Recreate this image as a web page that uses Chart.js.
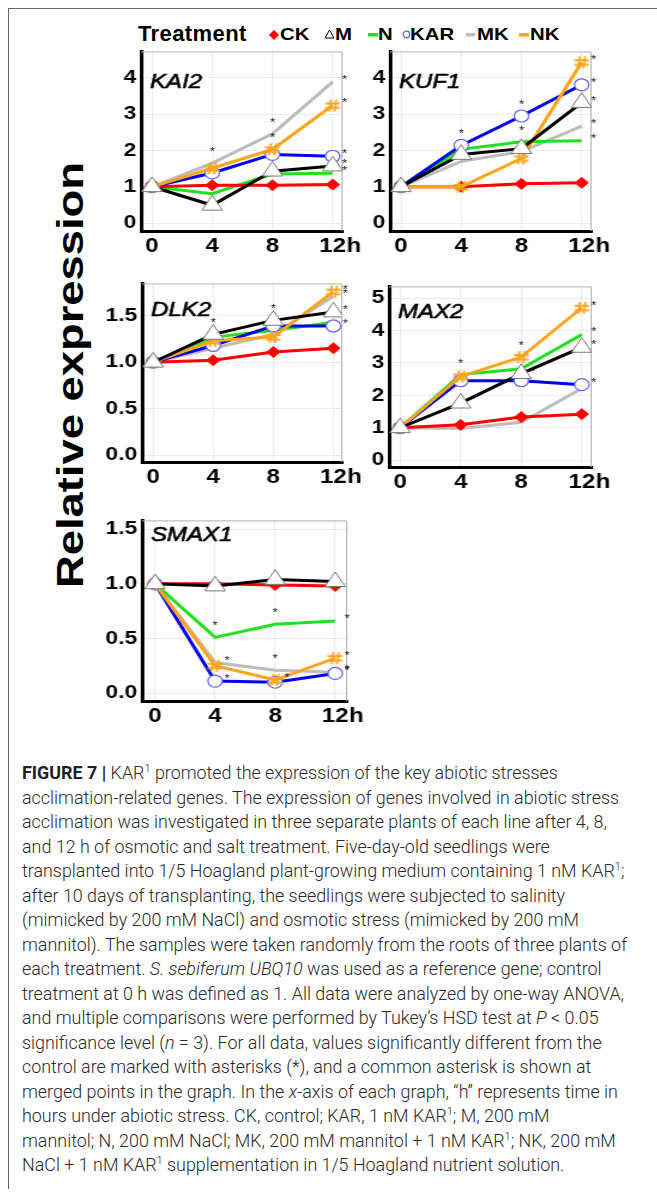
<!DOCTYPE html>
<html>
<head>
<meta charset="utf-8">
<script src="https://cdn.jsdelivr.net/npm/chart.js@4.4.0/dist/chart.umd.min.js"></script>
<style>
  body { margin: 0; background: #fff; width: 657px; height: 1194px; overflow: hidden; position: relative; font-family: "Liberation Sans", Arial, sans-serif; }
  #frame { position: absolute; left: 8px; top: 8px; width: 700px; height: 1180px; border-left: 1px solid #666; border-top: 1px solid #666; }
  .lg { position: absolute; top: 26px; font: bold 17px "Liberation Sans", Arial, sans-serif; line-height: 17px; transform: scaleX(1.2); transform-origin: 0 0; color: #000; }
  #treat { position: absolute; left: 138px; top: 23px; font: bold 22px "Liberation Sans", Arial, sans-serif; line-height: 22px; letter-spacing: 0.4px; }
  .sym { position: absolute; }
  #ytitle { position: absolute; left: -230px; top: 355px; width: 600px; height: 40px; line-height: 40px; text-align: center;
            font: bold 36px "Liberation Sans", Arial, sans-serif; transform: rotate(-90deg) scaleX(1.26); color: #000; }
  #caption { position: absolute; left: 22px; top: 761px; font: 300 17.9px Roboto, sans-serif; line-height: 24.5px; color: #2a2a2a; white-space: nowrap; }
  #caption b { font-weight: 700; color: #222; }
  #caption sup { font-size: 11px; line-height: 0; }
</style>
</head>
<body>
<div id="frame"></div>

<div id="treat">Treatment</div>
<svg class="sym" style="left:269px;top:30px" width="10" height="10"><path d="M5 0 L10 5 L5 10 L0 5 Z" fill="#ff0000"/><path d="M5 1 V9 M1 5 H9" stroke="#ff0000" stroke-width="1.5"/></svg>
<div class="lg" style="left:280px">CK</div>
<svg class="sym" style="left:324px;top:29px" width="11" height="10"><path d="M5.5 1 L10 9 L1 9 Z" fill="#fff" stroke="#000" stroke-width="1"/></svg>
<div class="lg" style="left:335px">M</div>
<svg class="sym" style="left:368px;top:33px" width="10" height="4"><rect x="0" y="0" width="10" height="3.5" fill="#21e021"/></svg>
<div class="lg" style="left:378px">N</div>
<svg class="sym" style="left:402px;top:30px" width="9" height="9"><circle cx="4.5" cy="4.5" r="3.3" fill="#fff" stroke="#5a5aff" stroke-width="1.2"/></svg>
<div class="lg" style="left:410px">KAR</div>
<svg class="sym" style="left:466px;top:33px" width="10" height="4"><rect x="0" y="0" width="9" height="3.5" fill="#bdbdbd"/></svg>
<div class="lg" style="left:477px">MK</div>
<svg class="sym" style="left:519px;top:33px" width="10" height="4"><rect x="0" y="0" width="10" height="3.5" fill="#ffa41b"/></svg>
<div class="lg" style="left:530px">NK</div>

<div id="ytitle">Relative expression</div>

<div id="caption">
<div><b>FIGURE 7 |</b> KAR<sup>1</sup> promoted the expression of the key abiotic stresses</div>
<div>acclimation-related genes. The expression of genes involved in abiotic stress</div>
<div>acclimation was investigated in three separate plants of each line after 4, 8,</div>
<div>and 12 h of osmotic and salt treatment. Five-day-old seedlings were</div>
<div>transplanted into 1/5 Hoagland plant-growing medium containing 1 nM KAR<sup>1</sup>;</div>
<div>after 10 days of transplanting, the seedlings were subjected to salinity</div>
<div>(mimicked by 200 mM NaCl) and osmotic stress (mimicked by 200 mM</div>
<div>mannitol). The samples were taken randomly from the roots of three plants of</div>
<div>each treatment. <i>S. sebiferum UBQ10</i> was used as a reference gene; control</div>
<div>treatment at 0 h was defined as 1. All data were analyzed by one-way ANOVA,</div>
<div>and multiple comparisons were performed by Tukey’s HSD test at <i>P</i> &lt; 0.05</div>
<div>significance level (<i>n</i> = 3). For all data, values significantly different from the</div>
<div>control are marked with asterisks (*), and a common asterisk is shown at</div>
<div>merged points in the graph. In the <i>x</i>-axis of each graph, “h” represents time in</div>
<div>hours under abiotic stress. CK, control; KAR, 1 nM KAR<sup>1</sup>; M, 200 mM</div>
<div>mannitol; N, 200 mM NaCl; MK, 200 mM mannitol + 1 nM KAR<sup>1</sup>; NK, 200 mM</div>
<div>NaCl + 1 nM KAR<sup>1</sup> supplementation in 1/5 Hoagland nutrient solution.</div>
</div>

<script>
// time points (h) and axis labels
const hours = [0, 4, 8, 12];
const hourLabels = ['0', '4', '8', '12'];

const ticksInt4 = [0, 1, 2, 3, 4];
const labelsInt4 = ['0', '1', '2', '3', '4'];
const ticksInt5 = [0, 1, 2, 3, 4, 5];
const labelsInt5 = ['0', '1', '2', '3', '4', '5'];
const ticksHalf = [0, 0.5, 1, 1.5];
const labelsHalf = ['0.0', '0.5', '1.0', '1.5'];

// KAI2
const kai2CK  = [1.00, 1.04, 1.04, 1.06];
const kai2M   = [1.00, 0.49, 1.43, 1.57];
const kai2N   = [1.00, 0.81, 1.35, 1.37];
const kai2KAR = [1.00, 1.38, 1.89, 1.84];
const kai2MK  = [1.00, 1.65, 2.46, 3.89];
const kai2NK  = [1.00, 1.51, 2.03, 3.24];

// KUF1
const kuf1CK  = [1.00, 1.00, 1.08, 1.11];
const kuf1M   = [1.00, 1.89, 2.05, 3.32];
const kuf1N   = [1.00, 2.03, 2.24, 2.27];
const kuf1KAR = [1.00, 2.14, 2.95, 3.81];
const kuf1MK  = [1.00, 1.70, 1.97, 2.67];
const kuf1NK  = [1.00, 1.00, 1.78, 4.43];

// DLK2
const dlk2CK  = [1.00, 1.02, 1.11, 1.15];
const dlk2M   = [1.00, 1.30, 1.45, 1.54];
const dlk2N   = [1.00, 1.27, 1.34, 1.43];
const dlk2KAR = [1.00, 1.18, 1.39, 1.39];
const dlk2MK  = [1.00, 1.15, 1.30, 1.71];
const dlk2NK  = [1.00, 1.23, 1.27, 1.76];

// MAX2
const max2CK  = [1.00, 1.09, 1.33, 1.42];
const max2M   = [1.00, 1.76, 2.67, 3.48];
const max2N   = [1.00, 2.64, 2.82, 3.88];
const max2KAR = [1.00, 2.45, 2.45, 2.33];
const max2MK  = [1.00, 0.98, 1.17, 2.21];
const max2NK  = [1.00, 2.58, 3.18, 4.70];

// SMAX1
const smax1CK  = [1.00, 1.00, 0.99, 0.98];
const smax1M   = [1.00, 0.98, 1.04, 1.02];
const smax1N   = [1.00, 0.51, 0.63, 0.66];
const smax1KAR = [1.00, 0.11, 0.10, 0.18];
const smax1MK  = [1.00, 0.28, 0.21, 0.19];
const smax1NK  = [1.00, 0.25, 0.12, 0.32];

// significance marks: [treatment, point index, 'r' right / 'a' above]
const kai2Stars  = [['MK',3,'r'],['NK',3,'r'],['KAR',3,'r'],['M',3,'r'],['N',3,'r'],['MK',2,'a'],['NK',2,'a'],['MK',1,'a']];
const kuf1Stars  = [['NK',3,'r'],['KAR',3,'r'],['M',3,'r'],['MK',3,'r'],['N',3,'r'],['KAR',2,'a'],['N',2,'a'],['KAR',1,'a']];
const dlk2Stars  = [['NK',3,'r'],['MK',3,'r'],['M',3,'r'],['KAR',3,'r'],['M',2,'a'],['M',1,'a']];
const max2Stars  = [['NK',3,'r'],['N',3,'r'],['M',3,'r'],['KAR',3,'r'],['NK',2,'a'],['M',2,'r'],['N',1,'a']];
const smax1Stars = [['N',3,'r'],['NK',3,'r'],['MK',3,'r'],['KAR',3,'r'],['N',2,'a'],['MK',2,'a'],['NK',2,'r'],['N',1,'a'],['MK',1,'r'],['KAR',1,'r']];

const S = 1.2; // the original figure is stretched horizontally

function hashIcon(color) {
  const c = document.createElement('canvas');
  c.width = 13; c.height = 14;
  const g = c.getContext('2d');
  g.strokeStyle = color; g.lineWidth = 1.8;
  g.beginPath();
  g.moveTo(5, 1); g.lineTo(3.5, 13);
  g.moveTo(9.5, 1); g.lineTo(8, 13);
  g.moveTo(0.5, 5); g.lineTo(12.5, 5);
  g.moveTo(0.5, 9.5); g.lineTo(12.5, 9.5);
  g.stroke();
  return c;
}
const hashOrange = hashIcon('#ffa41b');

const style = {
  M:   { borderColor: '#000000', pointStyle: 'triangle', pointRadius: 9.8, pointBackgroundColor: '#ffffff', pointBorderColor: '#7a7a7a', pointBorderWidth: 1 },
  NK:  { borderColor: '#ffa41b', pointStyle: hashOrange, pointRadius: 7 },
  KAR: { borderColor: '#0000ee', pointStyle: 'circle', pointRadius: 6, pointBackgroundColor: '#ffffff', pointBorderColor: '#6464ff', pointBorderWidth: 1.2 },
  CK:  { borderColor: '#ff0000', pointStyle: 'rectRot', pointRadius: 5.5, pointBackgroundColor: '#ff0000', pointBorderColor: '#ff0000', pointBorderWidth: 1 },
  N:   { borderColor: '#21e021', pointRadius: 0 },
  MK:  { borderColor: '#bdbdbd', pointRadius: 0 }
};
const drawOrder = ['M', 'NK', 'KAR', 'CK', 'N', 'MK']; // first is drawn on top

const panels = [
  { name: 'KAI2', box: [141, 48, 343, 231], yRange: [-0.22, 4.73], xRange: [-0.73, 12.66], yTicks: ticksInt4, yLabels: labelsInt4, nameDy: 37,
    data: { CK: kai2CK, M: kai2M, N: kai2N, KAR: kai2KAR, MK: kai2MK, NK: kai2NK }, stars: kai2Stars },
  { name: 'KUF1', box: [390, 48, 592, 231], yRange: [-0.22, 4.73], xRange: [-0.73, 12.66], yTicks: ticksInt4, yLabels: labelsInt4, nameDy: 37,
    data: { CK: kuf1CK, M: kuf1M, N: kuf1N, KAR: kuf1KAR, MK: kuf1MK, NK: kuf1NK }, stars: kuf1Stars },
  { name: 'DLK2', box: [142, 280, 342, 462], yRange: [-0.074, 1.848], xRange: [-0.74, 12.6], yTicks: ticksHalf, yLabels: labelsHalf, nameDy: 33,
    data: { CK: dlk2CK, M: dlk2M, N: dlk2N, KAR: dlk2KAR, MK: dlk2MK, NK: dlk2NK }, stars: dlk2Stars },
  { name: 'MAX2', box: [389, 283, 592, 467], yRange: [-0.21, 5.36], xRange: [-0.73, 12.66], yTicks: ticksInt5, yLabels: labelsInt5, nameDy: 32,
    data: { CK: max2CK, M: max2M, N: max2N, KAR: max2KAR, MK: max2MK, NK: max2NK }, stars: max2Stars },
  { name: 'SMAX1', box: [142, 517, 347, 701], yRange: [-0.072, 1.58], xRange: [-0.87, 12.8], yTicks: ticksHalf, yLabels: labelsHalf, nameDy: 21,
    data: { CK: smax1CK, M: smax1M, N: smax1N, KAR: smax1KAR, MK: smax1MK, NK: smax1NK }, stars: smax1Stars }
];

const decor = {
  id: 'decor',
  beforeDatasetsDraw(chart, args, o) {
    const { ctx, chartArea: a } = chart;
    ctx.save();
    ctx.strokeStyle = '#b0b0b0';
    ctx.lineWidth = 1;
    ctx.beginPath();
    ctx.moveTo(a.left, a.top + 0.5);
    ctx.lineTo(a.right - 0.5, a.top + 0.5);
    ctx.lineTo(a.right - 0.5, a.bottom);
    ctx.stroke();
    ctx.fillStyle = '#000';
    ctx.strokeStyle = '#000';
    ctx.lineWidth = 0.6;
    ctx.font = 'italic 20px "Liberation Sans", Arial, sans-serif';
    ctx.textBaseline = 'alphabetic';
    ctx.fillText(o.name, a.left + 7.5, a.top + o.nameDy);
    ctx.strokeText(o.name, a.left + 7.5, a.top + o.nameDy);
    ctx.restore();
  },
  afterDraw(chart, args, o) {
    const { ctx } = chart;
    const xs = chart.scales.x;
    ctx.save();
    ctx.fillStyle = '#000';
    ctx.font = 'bold 20px "Liberation Sans", Arial, sans-serif';
    ctx.textBaseline = 'middle';
    ctx.textAlign = 'left';
    const w = ctx.measureText('12').width;
    ctx.fillText('h', xs.getPixelForValue(12) + w / 2 + 0.5, xs.top + 3 + 12);
    ctx.font = '11px "Liberation Sans", Arial, sans-serif';
    ctx.textAlign = 'center';
    ctx.fillStyle = '#111';
    o.stars.forEach(([key, i, pos]) => {
      const ds = drawOrder.indexOf(key);
      const pt = chart.getDatasetMeta(ds).data[i];
      if (pos === 'r') ctx.fillText('*', pt.x + 10, pt.y - 2);
      else ctx.fillText('*', pt.x, pt.y - 11);
    });
    ctx.restore();
  }
};

const tickFontX = { family: '"Liberation Sans", Arial, sans-serif', size: 20, weight: 'bold' };
const tickFontY = { family: '"Liberation Sans", Arial, sans-serif', size: 19, weight: 'bold' };

panels.forEach(p => {
  const [l, t, r, b] = p.box;
  const yW = 40, padT = 12, padR = 22, xH = 32;
  const w = Math.round(yW + (r - l) / S + padR);
  const h = padT + (b - t) + xH;
  const cv = document.createElement('canvas');
  cv.width = w; cv.height = h;
  cv.style.cssText = `position:absolute;left:${l - yW * S}px;top:${t - padT}px;width:${w}px;height:${h}px;transform:scaleX(${S});transform-origin:0 0`;
  document.body.appendChild(cv);

  const datasets = drawOrder.map(key => Object.assign({
    label: key,
    data: hours.map((hh, i) => ({ x: hh, y: p.data[key][i] })),
    borderWidth: 3,
    tension: 0,
    fill: false
  }, style[key]));

  new Chart(cv, {
    type: 'line',
    data: { datasets },
    options: {
      responsive: false,
      animation: false,
      devicePixelRatio: 1,
      layout: { padding: { top: padT, right: padR, left: 0, bottom: 0 } },
      plugins: { legend: { display: false }, tooltip: { enabled: false }, decor: { name: p.name, nameDy: p.nameDy, stars: p.stars } },
      scales: {
        x: {
          type: 'linear', min: p.xRange[0], max: p.xRange[1],
          afterBuildTicks: ax => { ax.ticks = hours.map(v => ({ value: v })); },
          afterFit: ax => { ax.height = xH; },
          ticks: { callback: v => hourLabels[hours.indexOf(v)], font: tickFontX, color: '#000', padding: 3, maxRotation: 0, autoSkip: false },
          grid: { color: '#ececec', drawTicks: false },
          border: { color: '#000', width: 3 }
        },
        y: {
          type: 'linear', min: p.yRange[0], max: p.yRange[1],
          afterBuildTicks: ax => { ax.ticks = p.yTicks.map(v => ({ value: v })); },
          afterFit: ax => { ax.width = yW; },
          ticks: { callback: (v, i) => p.yLabels[i], font: tickFontY, color: '#000', padding: 4 },
          grid: { color: '#ececec', drawTicks: false },
          border: { color: '#000', width: 3 }
        }
      }
    },
    plugins: [decor]
  });
});
</script>
</body>
</html>
